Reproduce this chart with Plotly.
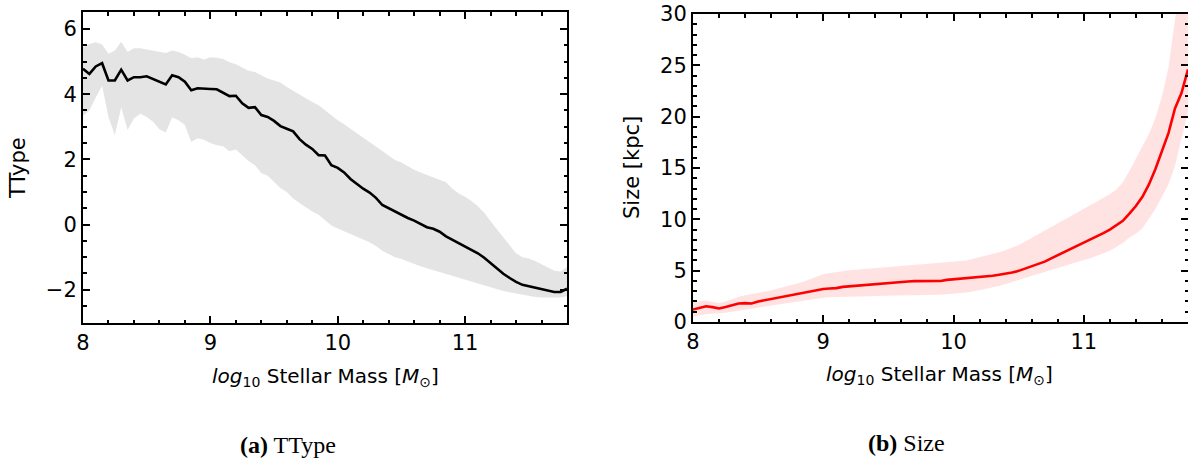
import plotly.graph_objects as go

# ---------------- data ----------------
mass = [round(8.0 + 0.05 * i, 2) for i in range(77)]

ttype_med = [4.78, 4.62, 4.85, 4.95, 4.42, 4.42, 4.75, 4.42, 4.52, 4.52,
             4.55, 4.47, 4.38, 4.30, 4.58, 4.52, 4.38, 4.12, 4.18, 4.16,
             4.16, 4.15, 4.05, 3.94, 3.95, 3.72, 3.58, 3.60, 3.36, 3.30,
             3.18, 3.02, 2.94, 2.86, 2.62, 2.45, 2.32, 2.13, 2.12, 1.82,
             1.74, 1.60, 1.40, 1.24, 1.10, 0.98, 0.82, 0.60, 0.50, 0.40,
             0.28, 0.20, 0.12, 0.02, -0.08, -0.13, -0.22, -0.36, -0.46, -0.57,
             -0.66, -0.76, -0.88, -1.02, -1.18, -1.33, -1.51, -1.64, -1.76, -1.85,
             -1.89, -1.93, -1.97, -2.01, -2.07, -2.07, -1.97]
ttype_hi = [5.44, 5.54, 5.59, 5.52, 5.24, 5.34, 5.61, 5.29, 5.41, 5.41,
            5.37, 5.34, 5.29, 5.26, 5.34, 5.29, 5.21, 5.10, 5.13, 5.06,
            5.13, 5.12, 5.08, 4.98, 4.92, 4.82, 4.72, 4.68, 4.58, 4.48,
            4.42, 4.36, 4.22, 4.10, 3.98, 3.86, 3.76, 3.66, 3.50, 3.36,
            3.20, 3.08, 2.94, 2.80, 2.66, 2.52, 2.40, 2.26, 2.10, 1.98,
            1.90, 1.78, 1.68, 1.60, 1.52, 1.45, 1.38, 1.30, 1.10, 0.95,
            0.85, 0.72, 0.56, 0.36, 0.10, -0.15, -0.40, -0.65, -0.88, -1.00,
            -1.04, -1.12, -1.22, -1.30, -1.42, -1.44, -1.30]
ttype_lo = [3.34, 3.50, 3.90, 4.26, 3.30, 2.75, 3.60, 2.90, 3.25, 3.40,
            3.30, 3.15, 2.92, 2.82, 3.29, 3.20, 3.05, 2.53, 2.65, 2.60,
            2.50, 2.43, 2.40, 2.25, 2.30, 2.12, 1.95, 1.82, 1.58, 1.50,
            1.32, 1.12, 1.00, 0.80, 0.66, 0.52, 0.40, 0.30, 0.12, -0.03,
            -0.12, -0.20, -0.30, -0.38, -0.46, -0.54, -0.66, -0.80, -0.90, -1.00,
            -1.06, -1.14, -1.22, -1.28, -1.34, -1.40, -1.46, -1.52, -1.58, -1.64,
            -1.70, -1.76, -1.80, -1.86, -1.92, -1.98, -2.04, -2.08, -2.12, -2.16,
            -2.20, -2.22, -2.24, -2.24, -2.25, -2.24, -2.20]

size_med = [1.21, 1.40, 1.53, 1.45, 1.32, 1.45, 1.62, 1.80, 1.84, 1.80,
            2.00, 2.12, 2.22, 2.34, 2.48, 2.60, 2.68, 2.80, 2.94, 3.08,
            3.22, 3.26, 3.30, 3.42, 3.48, 3.50, 3.55, 3.66, 3.70, 3.74,
            3.80, 3.84, 3.90, 3.95, 3.98, 4.00, 4.02, 4.05, 4.00, 4.10,
            4.15, 4.20, 4.25, 4.30, 4.35, 4.42, 4.50, 4.60, 4.70, 4.82,
            4.98, 5.20, 5.42, 5.62, 5.88, 6.20, 6.50, 6.80, 7.10, 7.40,
            7.70, 8.02, 8.35, 8.65, 9.00, 9.40, 9.85, 10.55, 11.30, 12.20,
            13.40, 14.90, 16.60, 18.40, 20.80, 22.30, 24.60]
size_hi = [1.95, 2.05, 2.10, 1.95, 1.85, 2.00, 2.25, 2.45, 2.60, 2.70,
           2.80, 2.95, 3.10, 3.25, 3.40, 3.55, 3.75, 3.95, 4.20, 4.45,
           4.65, 4.78, 4.88, 4.97, 5.05, 5.10, 5.15, 5.20, 5.25, 5.30,
           5.35, 5.40, 5.45, 5.50, 5.55, 5.62, 5.68, 5.75, 5.80, 5.85,
           5.90, 5.94, 6.00, 6.15, 6.30, 6.45, 6.60, 6.80, 7.00, 7.25,
           7.50, 7.85, 8.20, 8.55, 8.90, 9.25, 9.60, 9.95, 10.30, 10.65,
           11.00, 11.35, 11.70, 12.05, 12.45, 12.90, 13.60, 14.70, 15.90, 17.00,
           18.30, 19.90, 22.00, 24.80, 29.50, 33.00, 36.00]
size_lo = [0.50, 0.65, 0.75, 0.80, 0.82, 0.90, 1.00, 1.10, 1.20, 1.30,
           1.40, 1.52, 1.62, 1.72, 1.80, 1.90, 2.00, 2.10, 2.20, 2.30,
           2.37, 2.40, 2.42, 2.43, 2.45, 2.48, 2.50, 2.52, 2.55, 2.58,
           2.60, 2.60, 2.60, 2.60, 2.60, 2.60, 2.60, 2.62, 2.65, 2.70,
           2.75, 2.80, 2.88, 2.98, 3.10, 3.22, 3.35, 3.50, 3.70, 3.90,
           4.10, 4.30, 4.50, 4.70, 4.90, 5.10, 5.30, 5.50, 5.70, 5.90,
           6.05, 6.20, 6.45, 6.70, 6.95, 7.30, 7.70, 8.20, 8.60, 9.10,
           10.00, 11.00, 12.20, 13.40, 15.20, 18.00, 20.50]

x_ticks = [8, 9, 10, 11]
ttype_ticks = [-2, 0, 2, 4, 6]
size_ticks = [0, 5, 10, 15, 20, 25, 30]

# ---------------- figure ----------------
W, H = 1188, 459
FONT = "DejaVu Sans"

fig = go.Figure()

# left panel
fig.add_trace(go.Scatter(x=mass, y=ttype_hi, mode="lines", line=dict(width=0),
                         showlegend=False, hoverinfo="skip", xaxis="x", yaxis="y"))
fig.add_trace(go.Scatter(x=mass, y=ttype_lo, mode="lines", line=dict(width=0),
                         fill="tonexty", fillcolor="rgba(190,190,190,0.42)",
                         showlegend=False, hoverinfo="skip", xaxis="x", yaxis="y"))
fig.add_trace(go.Scatter(x=mass, y=ttype_med, mode="lines",
                         line=dict(color="black", width=2.6),
                         showlegend=False, xaxis="x", yaxis="y"))

# right panel
fig.add_trace(go.Scatter(x=mass, y=size_hi, mode="lines", line=dict(width=0),
                         showlegend=False, hoverinfo="skip", xaxis="x2", yaxis="y2"))
fig.add_trace(go.Scatter(x=mass, y=size_lo, mode="lines", line=dict(width=0),
                         fill="tonexty", fillcolor="rgba(255,0,0,0.11)",
                         showlegend=False, hoverinfo="skip", xaxis="x2", yaxis="y2"))
fig.add_trace(go.Scatter(x=mass, y=size_med, mode="lines",
                         line=dict(color="red", width=2.6),
                         showlegend=False, xaxis="x2", yaxis="y2"))


def axis_style(tickvals, minor_dtick, rng, domain, anchor):
    return dict(
        range=rng, domain=domain, anchor=anchor, automargin=False,
        tickmode="array", tickvals=tickvals,
        ticktext=[("\u2212" + str(-v)) if v < 0 else str(v) for v in tickvals],
        ticks="inside", ticklen=7, tickwidth=2, tickcolor="black",
        showline=True, linecolor="black", linewidth=2, mirror="allticks",
        showgrid=False, zeroline=False,
        tickfont=dict(family=FONT, size=21, color="black"),
        minor=dict(dtick=minor_dtick, tick0=0, ticks="inside", ticklen=3.5,
                   tickwidth=2, tickcolor="black", showgrid=False),
    )


fig.update_layout(
    width=W, height=H,
    margin=dict(l=0, r=0, t=0, b=0, autoexpand=False),
    paper_bgcolor="white", plot_bgcolor="white",
    font=dict(family=FONT, color="black"),
    xaxis=axis_style(x_ticks, 0.2, [8, 11.8], [83 / W, 567 / W], "y"),
    yaxis=axis_style(ttype_ticks, 0.5, [-3.02, 6.52], [1 - 323 / H, 1 - 12 / H], "x"),
    xaxis2=axis_style(x_ticks, 0.2, [8, 11.8], [693 / W, 1.0], "y2"),
    yaxis2=axis_style(size_ticks, 1, [0, 30], [1 - 322 / H, 1 - 14 / H], "x2"),
)

xlabel = "<i>log</i><sub>10</sub> Stellar Mass [<i>M</i><sub>\u2299</sub>]"
annos = [
    dict(text=xlabel, x=325 / W, y=1 - 377 / H, font=dict(size=20, color="black")),
    dict(text=xlabel, x=940 / W, y=1 - 375 / H, font=dict(size=20, color="black")),
    dict(text="TType", x=18 / W, y=1 - 168 / H, textangle=-90, font=dict(size=21, color="black")),
    dict(text="Size [kpc]", x=632 / W, y=1 - 168 / H, textangle=-90, font=dict(size=21, color="black")),
    dict(text="<b>(a)</b> TType", x=288 / W, y=1 - 445 / H,
         font=dict(family="Liberation Serif", size=24, color="black")),
    dict(text="<b>(b)</b> Size", x=906 / W, y=1 - 443 / H,
         font=dict(family="Liberation Serif", size=24, color="black")),
]
for a in annos:
    fig.add_annotation(xref="paper", yref="paper", showarrow=False,
                       xanchor="center", yanchor="middle", **a)

fig.write_html("out.html")
